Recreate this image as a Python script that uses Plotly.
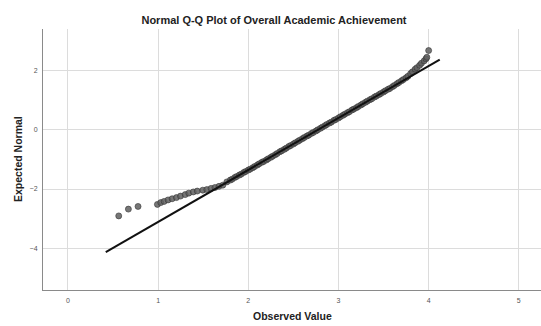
import plotly.graph_objects as go

obs_tail = [0.563, 0.670, 0.777, 0.992, 1.029, 1.066, 1.110, 1.155, 1.203, 1.248,
            1.300, 1.340, 1.390, 1.434, 1.495, 1.540, 1.587, 1.630, 1.675, 1.717, 1.762]
exp_tail = [-2.91, -2.68, -2.59, -2.52, -2.46, -2.42, -2.37, -2.33, -2.29, -2.24,
            -2.19, -2.14, -2.10, -2.07, -2.04, -2.02, -1.98, -1.95, -1.91, -1.87, -1.76]

obs_body = [1.80, 1.82, 1.85, 1.87, 1.90, 1.92, 1.95, 1.97, 2.00, 2.02, 2.05, 2.07,
            2.10, 2.12, 2.15, 2.17, 2.20, 2.22, 2.25, 2.27, 2.30, 2.32, 2.35, 2.37,
            2.40, 2.42, 2.45, 2.47, 2.50, 2.52, 2.55, 2.57, 2.60, 2.62, 2.65, 2.67,
            2.70, 2.72, 2.75, 2.77, 2.80, 2.82, 2.85, 2.87, 2.90, 2.92, 2.95, 2.97,
            3.00, 3.02, 3.05, 3.07, 3.10, 3.12, 3.15, 3.17, 3.20, 3.22, 3.25, 3.27,
            3.30, 3.32, 3.35, 3.37, 3.40, 3.42, 3.45, 3.47, 3.50, 3.52, 3.55, 3.57,
            3.60, 3.62, 3.65, 3.67, 3.70, 3.72, 3.75, 3.77, 3.80, 3.82, 3.85, 3.87,
            3.90, 3.92, 3.95, 3.97, 3.98, 4.00]
exp_body = [-1.70, -1.67, -1.61, -1.58, -1.53, -1.50, -1.44, -1.41, -1.36, -1.33, -1.28, -1.24,
            -1.19, -1.15, -1.10, -1.07, -1.02, -0.98, -0.93, -0.89, -0.84, -0.80, -0.74, -0.71,
            -0.66, -0.62, -0.56, -0.53, -0.48, -0.44, -0.39, -0.35, -0.30, -0.26, -0.21, -0.18,
            -0.12, -0.09, -0.04, 0.00, 0.05, 0.09, 0.14, 0.18, 0.23, 0.26, 0.32, 0.35,
            0.40, 0.44, 0.49, 0.53, 0.58, 0.61, 0.67, 0.70, 0.75, 0.79, 0.84, 0.88,
            0.93, 0.97, 1.02, 1.05, 1.11, 1.14, 1.19, 1.23, 1.28, 1.32, 1.37, 1.40,
            1.46, 1.50, 1.56, 1.60, 1.66, 1.70, 1.76, 1.81, 1.90, 1.96, 2.05, 2.10,
            2.18, 2.25, 2.33, 2.40, 2.45, 2.68]

# Reference line endpoints
line_x = [0.419, 4.123]
line_y = [-4.13, 2.37]

x_ticks = [0, 1, 2, 3, 4, 5]
y_ticks = [-4, -2, 0, 2]

title_text = "Normal Q-Q Plot of Overall Academic Achievement"
x_title = "Observed Value"
y_title = "Expected Normal"

fig = go.Figure()
fig.add_trace(go.Scatter(
    x=obs_tail + obs_body, y=exp_tail + exp_body, mode="markers",
    marker=dict(size=6, color="rgba(95,95,95,0.85)", line=dict(color="#333333", width=0.6)),
    showlegend=False, hoverinfo="skip"))
fig.add_trace(go.Scatter(
    x=line_x, y=line_y, mode="lines",
    line=dict(color="#111111", width=2), showlegend=False, hoverinfo="skip"))

axis_font = dict(family="Liberation Sans, Arial, sans-serif", size=7, color="#555555")
fig.update_xaxes(range=[-0.277, 5.246], tickvals=x_ticks, showgrid=True, gridcolor="#dcdcdc",
                 gridwidth=1, zeroline=False, showline=True, linecolor="#8a8a8a", linewidth=1,
                 ticks="", tickfont=axis_font, ticklabelstandoff=4)
fig.update_yaxes(range=[-5.414, 3.408], tickvals=y_ticks, showgrid=True, gridcolor="#dcdcdc",
                 gridwidth=1, zeroline=False, showline=True, linecolor="#8a8a8a", linewidth=1,
                 ticks="", tickfont=axis_font, ticklabelstandoff=3)

bold = dict(family="Liberation Sans, Arial, sans-serif", size=10.5, color="#222222", weight="bold")
fig.update_layout(
    width=541, height=326,
    margin=dict(l=43, r=0, t=29, b=36),
    plot_bgcolor="white", paper_bgcolor="white",
    title=dict(text=title_text, x=(274 - 43) / 498, xref="paper", xanchor="center",
               y=1 - 20.6 / 326, yref="container", yanchor="middle",
               font=dict(family="Liberation Sans, Arial, sans-serif", size=11, color="#222222", weight="bold")),
    annotations=[
        dict(text=x_title, xref="paper", yref="paper", x=0.5, y=-26 / 261, xanchor="center",
             yanchor="middle", showarrow=False, font=bold),
        dict(text=y_title, xref="paper", yref="paper", x=-25.5 / 498, y=0.5, xanchor="center",
             yanchor="middle", showarrow=False, textangle=-90, font=bold),
    ],
)

fig.write_html("out.html", config={"displayModeBar": False, "staticPlot": True},
               post_script="document.body.style.margin='0';document.body.style.overflow='hidden';")
